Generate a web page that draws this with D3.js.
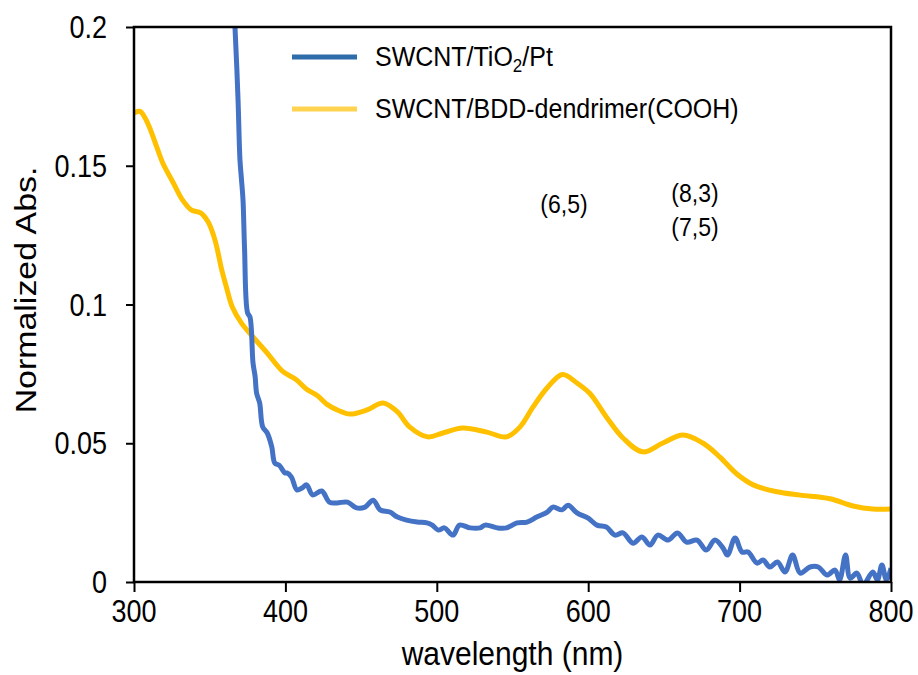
<!DOCTYPE html>
<html>
<head>
<meta charset="utf-8">
<script src="https://cdn.jsdelivr.net/npm/d3@7"></script>
<style>
  body { margin: 0; background: #fff; }
  text { font-family: "Liberation Sans", Arial, sans-serif; fill: #000; }
</style>
</head>
<body>
<script>
/* CONSTANTS AND GLOBALS */
const width = 918,
  height = 675,
  margin = { top: 27, right: 27, bottom: 93, left: 134 };
const S = 1.13; // the figure is a bit taller than wide, text looks stretched

/* DATA */
const xTicks = [300, 400, 500, 600, 700, 800];
const yTicks = [0, 0.05, 0.1, 0.15, 0.2];
const yTickLabels = ["0", "0.05", "0.1", "0.15", "0.2"];

// SWCNT/BDD-dendrimer(COOH)
const dendWl = [300, 304, 309, 315, 319, 326, 332, 338, 344, 349, 353.5, 358, 361, 365, 371, 378.6, 388, 398, 407,
  414, 421, 427.5, 435, 442.7, 454, 464.5, 474, 482, 494, 504, 517, 533, 546, 555, 563.5, 572.8, 583, 592.6, 601,
  612, 623, 636, 649, 662.6, 676, 687, 698, 709, 724.7, 740, 759.7, 775, 788, 800];
const dendAbs = [0.1690, 0.1696, 0.1654, 0.1568, 0.1510, 0.1438, 0.1377, 0.1340, 0.1330, 0.1297, 0.1232, 0.1124,
  0.1063, 0.0990, 0.0933, 0.0883, 0.0825, 0.0760, 0.0730, 0.0695, 0.0672, 0.0640, 0.0618, 0.0605, 0.0620, 0.0645,
  0.0613, 0.0559, 0.0523, 0.0537, 0.0555, 0.0540, 0.0523, 0.0559, 0.0630, 0.0699, 0.0748, 0.0717, 0.0680, 0.0595,
  0.0519, 0.0469, 0.0500, 0.0530, 0.0500, 0.0450, 0.0390, 0.0350, 0.0325, 0.0313, 0.0300, 0.0274, 0.0263, 0.0263];

// SWCNT/TiO2/Pt (noisy)
const tioWl = [365, 366.7, 368.7, 370, 371, 372, 373, 375, 376.6, 378.6, 380, 381, 383, 385, 388, 391, 393, 396,
  399.7, 401, 404, 407.6, 411, 414, 418, 424, 429, 434, 441, 447, 452.6, 458, 462.5, 469, 474, 480, 487, 493.5,
  497, 501, 505, 510.7, 515, 522, 528.5, 532, 540, 546, 553, 559.6, 566, 573, 576.7, 582.7, 586.7, 592.6, 600,
  605.8, 612, 617.7, 623, 629.6, 635.5, 640.8, 646, 652.7, 659, 665, 671.9, 678, 683.7, 689, 692, 697, 701.6,
  705.6, 711.5, 715.5, 720, 725, 730, 735, 740, 746.5, 752, 757.7, 763, 766, 770, 773, 777.5, 781.6, 788, 791,
  794, 797, 800];
const tioAbs = [0.215, 0.200, 0.174, 0.152, 0.145, 0.1377, 0.1205, 0.097, 0.0955, 0.079, 0.074, 0.068, 0.0645,
  0.0559, 0.0537, 0.0487, 0.0429, 0.0420, 0.0393, 0.0393, 0.0378, 0.0332, 0.0339, 0.0350, 0.0314, 0.0328, 0.0288,
  0.0285, 0.0288, 0.0267, 0.0270, 0.0295, 0.0260, 0.0252, 0.0234, 0.0223, 0.0216, 0.0213, 0.0205, 0.0187, 0.0195,
  0.0169, 0.0205, 0.0195, 0.0195, 0.0205, 0.0195, 0.0195, 0.0213, 0.0216, 0.0234, 0.0252, 0.0270, 0.0260, 0.0277,
  0.0249, 0.0230, 0.0205, 0.0198, 0.0169, 0.0177, 0.0140, 0.0162, 0.0133, 0.0169, 0.0151, 0.0177, 0.0144, 0.0151,
  0.0115, 0.0151, 0.0123, 0.0097, 0.0159, 0.0108, 0.0108, 0.0068, 0.0079, 0.0054, 0.0072, 0.0036, 0.0097, 0.0032,
  0.0054, 0.0054, 0.0025, 0.0043, 0.0007, 0.0097, 0.0014, 0.0032, -0.0010, 0.0036, 0.0007, 0.0061, 0.0007, 0.0050];

const seriesNames = ["SWCNT/TiO", "SWCNT/BDD-dendrimer(COOH)"];
const annotations = [
  { wl: 584, v: 0.1328, lines: ["(6,5)"] },
  { wl: 670.5, v: 0.1369, lines: ["(8,3)", "(7,5)"] }
];

/* SVG */
const svg = d3.select("body")
  .append("svg")
  .attr("width", width)
  .attr("height", height);

const xScale = d3.scaleLinear()
  .domain([300, 800])
  .range([margin.left, width - margin.right]);

const yScale = d3.scaleLinear()
  .domain([0, 0.2])
  .range([height - margin.bottom, margin.top]);

// stretched text helper
function label(x, y, txt, size, anchor, rotate) {
  return svg.append("text")
    .attr("transform", rotate
      ? `translate(${x},${y}) rotate(-90) scale(${S},1)`
      : `translate(${x},${y}) scale(1,${S})`)
    .attr("text-anchor", anchor)
    .attr("font-size", size)
    .text(txt);
}

// clip for the plot area
svg.append("clipPath").attr("id", "plot")
  .append("rect")
  .attr("x", margin.left)
  .attr("y", margin.top)
  .attr("width", width - margin.left - margin.right)
  .attr("height", height - margin.top - margin.bottom);

const line = d3.line()
  .x(d => xScale(d[0]))
  .y(d => yScale(d[1]));

svg.append("path")
  .datum(dendWl.map((w, i) => [w, dendAbs[i]]))
  .attr("clip-path", "url(#plot)")
  .attr("fill", "none")
  .attr("stroke", "#FFC000")
  .attr("stroke-width", 5)
  .attr("stroke-linejoin", "round")
  .attr("d", line.curve(d3.curveCatmullRom.alpha(0.5)));

svg.append("path")
  .datum(tioWl.map((w, i) => [w, tioAbs[i]]))
  .attr("clip-path", "url(#plot)")
  .attr("fill", "none")
  .attr("stroke", "#4472C4")
  .attr("stroke-width", 5)
  .attr("stroke-linejoin", "round")
  .attr("d", line.curve(d3.curveCatmullRom.alpha(0.5)));

// axes
svg.append("g")
  .attr("transform", `translate(0, ${height - margin.bottom})`)
  .call(d3.axisBottom(xScale).tickValues(xTicks).tickSize(10).tickFormat(""))
  .call(g => g.select(".domain").remove())
  .call(g => g.selectAll("line").attr("stroke", "#000").attr("stroke-width", 2));

svg.append("g")
  .attr("transform", `translate(${margin.left}, 0)`)
  .call(d3.axisLeft(yScale).tickValues(yTicks).tickSize(8).tickFormat(""))
  .call(g => g.select(".domain").remove())
  .call(g => g.selectAll("line").attr("stroke", "#000").attr("stroke-width", 2));

// frame
svg.append("rect")
  .attr("x", margin.left)
  .attr("y", margin.top)
  .attr("width", width - margin.left - margin.right)
  .attr("height", height - margin.top - margin.bottom)
  .attr("fill", "none")
  .attr("stroke", "#000")
  .attr("stroke-width", 2.5);

// tick labels
xTicks.forEach(t => label(xScale(t), 622, t, 27, "middle"));
yTicks.forEach((t, i) => label(107, yScale(t) + 11, yTickLabels[i], 27, "end"));

// axis titles
label((xScale(300) + xScale(800)) / 2, 665, "wavelength (nm)", 30, "middle");
label(36, 290, "Normalized Abs.", 30, "middle", true);

// legend
const legendColors = ["#2E6DAA", "#FFD34F"];
[57, 109].forEach((ly, i) => {
  svg.append("line")
    .attr("x1", 292).attr("x2", 357)
    .attr("y1", ly).attr("y2", ly)
    .attr("stroke", legendColors[i])
    .attr("stroke-width", 5);
});
const t1 = label(375, 66, seriesNames[0], 25, "start");
t1.append("tspan").attr("font-size", 17).attr("dy", 5).text("2");
t1.append("tspan").attr("dy", -5).text("/Pt");
label(375, 118, seriesNames[1], 25, "start");

// (n,m) labels
annotations.forEach(a => {
  a.lines.forEach((l, j) => {
    label(xScale(a.wl), yScale(a.v) + j * 34, l, 23, "middle");
  });
});
</script>
</body>
</html>
